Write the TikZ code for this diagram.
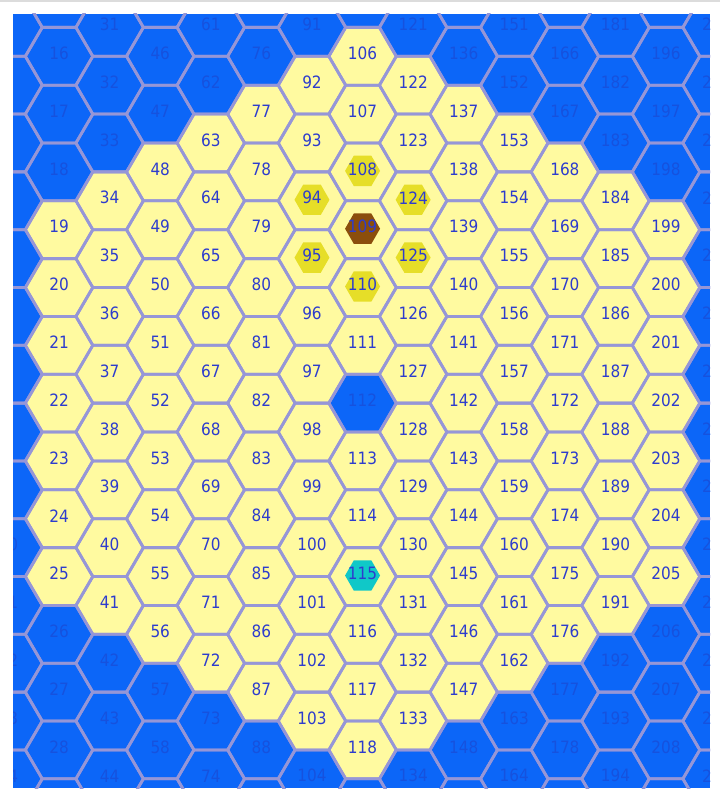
\documentclass[tikz,border=0pt]{standalone}
\usepackage{fontspec}
\setmainfont[FakeStretch=0.9]{DejaVu Sans}
\definecolor{seablue}{RGB}{12,102,248}
\definecolor{cellyellow}{RGB}{255,250,160}
\definecolor{inneryellow}{RGB}{230,222,40}
\definecolor{innerbrown}{RGB}{139,78,12}
\definecolor{innercyan}{RGB}{16,200,200}
\definecolor{hexline}{RGB}{150,150,215}
\definecolor{numblue}{RGB}{45,60,205}
\definecolor{numfaint}{RGB}{22,82,222}
\definecolor{topgray}{RGB}{220,220,220}
\begin{document}
\begin{tikzpicture}[x=1pt,y=-1pt,
  hexcell/.style={draw=hexline, line width=2.8pt, line join=round},
  lbl/.style={inner sep=0pt, font=\fontsize{17}{20}\selectfont}]
\useasboundingbox (0,0) rectangle (720,794);
\coordinate (tl) at (0,0.8);
\coordinate (tr) at (720,0.8);
\draw[topgray, line width=1.6pt] (tl) -- (tr);
\begin{scope}
\clip (13,14) rectangle (710,788);
\fill[seablue] (13,14) rectangle (710,788);
% yellow cells
\foreach \c/\lo/\hi in {1/3/9, 2/3/10, 3/2/10, 4/2/11, 5/1/11, 6/1/12, 7/0/5, 7/7/12, 8/1/12, 9/1/11, 10/2/11, 11/2/10, 12/3/10, 13/3/9}{
  \foreach \j in {\lo,...,\hi}{
    \pgfmathsetmacro\cx{8.5+50.58*\c}
    \pgfmathsetmacro\cy{27.4+28.9*mod(\c,2)+57.8*\j}
    \fill[cellyellow, shift={(\cx,\cy)}] (33.72,0) -- (16.86,28.9) -- (-16.86,28.9) -- (-33.72,0) -- (-16.86,-28.9) -- (16.86,-28.9) -- cycle;
  }
}
% inner hexes
\foreach \c/\j/\col in {6/3/inneryellow, 6/4/inneryellow, 7/2/inneryellow, 7/4/inneryellow, 8/3/inneryellow, 8/4/inneryellow, 7/3/innerbrown, 7/9/innercyan}{
  \pgfmathsetmacro\cx{8.5+50.58*\c}
  \pgfmathsetmacro\cy{27.4+28.9*mod(\c,2)+57.8*\j-1}
  \fill[\col, shift={(\cx,\cy)}] (17.5,0) -- (8.75,15.2) -- (-8.75,15.2) -- (-17.5,0) -- (-8.75,-15.2) -- (8.75,-15.2) -- cycle;
}
% outlines
\foreach \c in {0,...,14}{
  \foreach \j in {-1,...,14}{
    \pgfmathsetmacro\cx{8.5+50.58*\c}
    \pgfmathsetmacro\cy{27.4+28.9*mod(\c,2)+57.8*\j}
    \draw[hexcell, shift={(\cx,\cy)}] (33.72,0) -- (16.86,28.9) -- (-16.86,28.9) -- (-33.72,0) -- (-16.86,-28.9) -- (16.86,-28.9) -- cycle;
  }
}
% labels
\foreach \c in {0,...,14}{
  \pgfmathtruncatemacro\jmax{13-mod(\c,2)}
  \pgfmathtruncatemacro\lo{{99,3,3,2,2,1,1,0,1,1,2,2,3,3,99}[\c]}
  \pgfmathtruncatemacro\hi{{-1,9,10,10,11,11,12,12,12,11,11,10,10,9,-1}[\c]}
  \foreach \j in {0,...,\jmax}{
    \pgfmathsetmacro\cx{8.5+50.58*\c}
    \pgfmathsetmacro\cy{27.4+28.9*mod(\c,2)+57.8*\j-3}
    \pgfmathtruncatemacro\n{15*\c+1+\j}
    \pgfmathtruncatemacro\isy{(\j>=\lo)&&(\j<=\hi)&&(\n!=112)}
    \ifnum\isy=1
      \node[lbl, text=numblue] (c\n) at (\cx,\cy) {\n};
    \else
      \node[lbl, text=numfaint] (c\n) at (\cx,\cy) {\n};
    \fi
  }
}
\end{scope}
\end{tikzpicture}
\end{document}
